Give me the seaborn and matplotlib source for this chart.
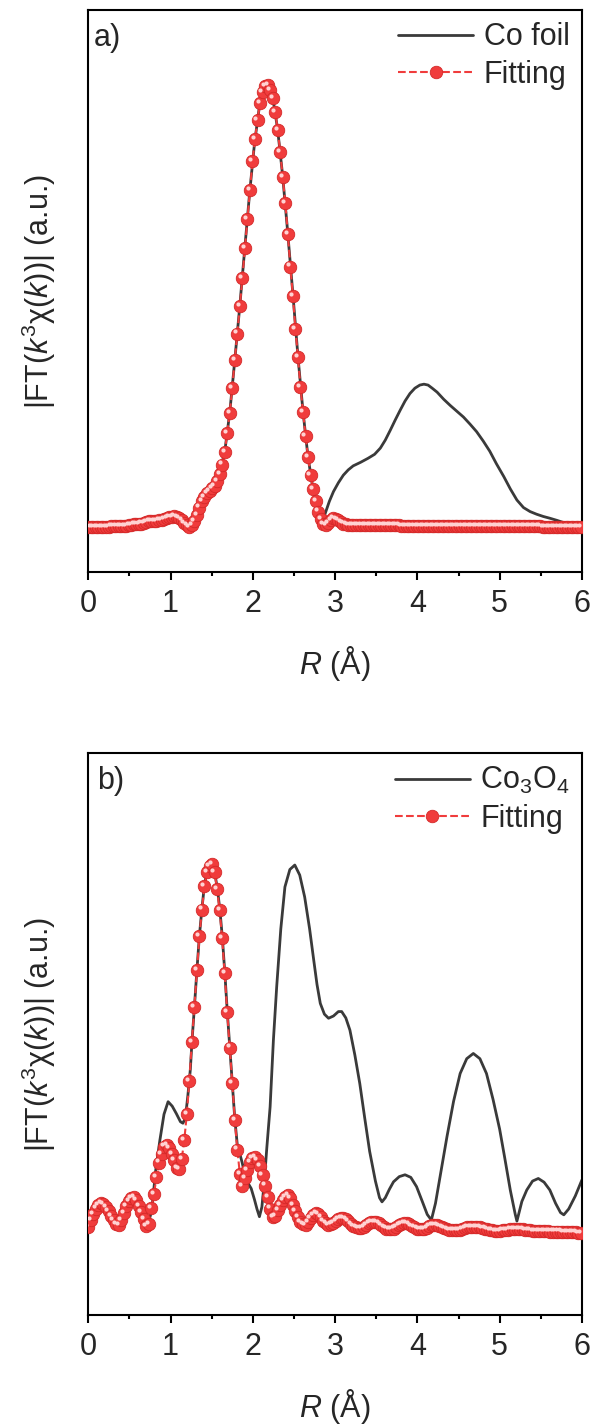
import numpy as np
import matplotlib
matplotlib.use('Agg')
import matplotlib.pyplot as plt
import seaborn as sns
from matplotlib import transforms
from matplotlib.ticker import MultipleLocator

# ==================================================================================
# Data (normalised |FT| magnitude)

# common R grid of the fits (Artemis-like 0.0307 A spacing)
r_fit = np.round(np.arange(196) * 0.0307, 4)

# a) Co foil
r_co_foil = [0.00, 0.30, 0.50, 0.70, 0.90, 1.04, 1.12, 1.23, 1.30, 1.37,
             1.45, 1.54, 1.60, 1.66, 1.72, 1.78, 1.84, 1.90, 1.96, 2.02,
             2.08, 2.14, 2.18, 2.24, 2.30, 2.36, 2.42, 2.49, 2.55, 2.61,
             2.67, 2.73, 2.79, 2.85, 2.88, 2.93, 2.98, 3.04, 3.10, 3.16,
             3.22, 3.31, 3.40, 3.48, 3.55, 3.61, 3.67, 3.73, 3.79, 3.85,
             3.91, 3.97, 4.03, 4.08, 4.13, 4.18, 4.24, 4.32, 4.40, 4.48,
             4.56, 4.64, 4.72, 4.80, 4.88, 4.96, 5.05, 5.13, 5.21, 5.29,
             5.37, 5.45, 5.53, 5.61, 5.70, 5.78, 5.86, 5.93, 6.00]
co_foil = [0.004, 0.006, 0.008, 0.015, 0.020, 0.028, 0.022, 0.005, 0.022, 0.058,
           0.081, 0.098, 0.126, 0.176, 0.263, 0.379, 0.499, 0.628, 0.755, 0.868,
           0.952, 0.995, 1.000, 0.974, 0.902, 0.800, 0.676, 0.522, 0.385, 0.264,
           0.163, 0.091, 0.041, 0.015, 0.035, 0.062, 0.084, 0.104, 0.121, 0.133,
           0.142, 0.150, 0.159, 0.168, 0.182, 0.200, 0.222, 0.245, 0.267, 0.288,
           0.305, 0.317, 0.324, 0.326, 0.324, 0.317, 0.308, 0.292, 0.278, 0.265,
           0.252, 0.236, 0.219, 0.198, 0.175, 0.147, 0.118, 0.090, 0.065, 0.048,
           0.039, 0.033, 0.028, 0.024, 0.019, 0.014, 0.009, 0.007, 0.006]
fit_co_foil = [0.004, 0.004, 0.004, 0.004, 0.005, 0.005, 0.005, 0.005, 0.005, 0.006,
               0.006, 0.006, 0.007, 0.007, 0.007, 0.007, 0.008, 0.009, 0.010, 0.010,
               0.011, 0.012, 0.014, 0.016, 0.017, 0.018, 0.018, 0.018, 0.019, 0.020,
               0.022, 0.024, 0.026, 0.027, 0.028, 0.027, 0.025, 0.020, 0.013, 0.008,
               0.005, 0.008, 0.017, 0.032, 0.048, 0.062, 0.072, 0.080, 0.086, 0.091,
               0.097, 0.108, 0.124, 0.145, 0.174, 0.215, 0.262, 0.318, 0.381, 0.440,
               0.503, 0.565, 0.632, 0.698, 0.763, 0.828, 0.878, 0.922, 0.960, 0.985,
               0.998, 1.000, 0.989, 0.970, 0.940, 0.898, 0.848, 0.792, 0.735, 0.665,
               0.591, 0.525, 0.451, 0.388, 0.320, 0.264, 0.210, 0.162, 0.122, 0.090,
               0.062, 0.039, 0.022, 0.011, 0.009, 0.014, 0.020, 0.024, 0.023, 0.020,
               0.016, 0.012, 0.010, 0.009, 0.008, 0.008, 0.008, 0.008, 0.008, 0.008,
               0.009, 0.009, 0.009, 0.009, 0.009, 0.008, 0.008, 0.008, 0.008, 0.008,
               0.008, 0.008, 0.008, 0.008, 0.007, 0.007, 0.007, 0.007, 0.007, 0.007,
               0.007, 0.007, 0.007, 0.007, 0.007, 0.007, 0.007, 0.007, 0.007, 0.007,
               0.006, 0.006, 0.006, 0.006, 0.006, 0.006, 0.006, 0.006, 0.006, 0.006,
               0.006, 0.006, 0.006, 0.006, 0.006, 0.006, 0.006, 0.006, 0.006, 0.006,
               0.006, 0.006, 0.006, 0.006, 0.006, 0.006, 0.006, 0.006, 0.006, 0.006,
               0.006, 0.006, 0.006, 0.006, 0.006, 0.006, 0.006, 0.006, 0.006, 0.006,
               0.005, 0.005, 0.005, 0.005, 0.005, 0.005, 0.005, 0.005, 0.005, 0.005,
               0.005, 0.005, 0.005, 0.005, 0.005, 0.005]

# b) Co3O4
r_co3o4 = [0.00, 0.06, 0.16, 0.26, 0.36, 0.45, 0.54, 0.64, 0.72, 0.77,
           0.82, 0.87, 0.92, 0.97, 1.02, 1.07, 1.12, 1.15, 1.18, 1.21,
           1.24, 1.26, 1.29, 1.32, 1.35, 1.38, 1.41, 1.44, 1.47, 1.50,
           1.53, 1.57, 1.60, 1.63, 1.66, 1.69, 1.72, 1.75, 1.78, 1.81,
           1.84, 1.87, 1.90, 1.94, 1.98, 2.02, 2.05, 2.08, 2.11, 2.14,
           2.17, 2.21, 2.25, 2.29, 2.34, 2.39, 2.45, 2.51, 2.57, 2.63,
           2.69, 2.74, 2.78, 2.82, 2.87, 2.92, 2.98, 3.04, 3.08, 3.13,
           3.18, 3.24, 3.30, 3.36, 3.42, 3.49, 3.54, 3.57, 3.61, 3.66,
           3.71, 3.78, 3.85, 3.92, 3.99, 4.06, 4.12, 4.17, 4.22, 4.29,
           4.36, 4.44, 4.52, 4.60, 4.68, 4.76, 4.84, 4.92, 5.00, 5.06,
           5.13, 5.19, 5.21, 5.27, 5.33, 5.40, 5.47, 5.54, 5.61, 5.68,
           5.74, 5.78, 5.84, 5.92, 6.00]
co3o4 = [0.017, 0.052, 0.080, 0.053, 0.022, 0.068, 0.096, 0.058, 0.018, 0.060,
         0.170, 0.250, 0.320, 0.354, 0.342, 0.322, 0.300, 0.296, 0.310, 0.370,
         0.440, 0.515, 0.610, 0.708, 0.800, 0.872, 0.935, 0.972, 0.990, 0.998,
         0.980, 0.927, 0.870, 0.795, 0.700, 0.595, 0.500, 0.405, 0.310, 0.240,
         0.215, 0.190, 0.160, 0.135, 0.120, 0.090, 0.065, 0.044, 0.070, 0.140,
         0.230, 0.340, 0.520, 0.664, 0.820, 0.933, 0.980, 0.992, 0.965, 0.906,
         0.820, 0.736, 0.670, 0.619, 0.590, 0.579, 0.585, 0.597, 0.597, 0.580,
         0.547, 0.480, 0.403, 0.310, 0.220, 0.140, 0.095, 0.084, 0.095, 0.118,
         0.138, 0.152, 0.157, 0.150, 0.125, 0.085, 0.050, 0.035, 0.080, 0.170,
         0.260, 0.355, 0.430, 0.470, 0.484, 0.470, 0.430, 0.360, 0.280, 0.205,
         0.115, 0.050, 0.032, 0.085, 0.116, 0.140, 0.147, 0.137, 0.116, 0.080,
         0.055, 0.049, 0.065, 0.100, 0.143]
fit_co3o4 = [0.017, 0.035, 0.052, 0.066, 0.076, 0.080, 0.078, 0.070, 0.058, 0.046,
             0.034, 0.025, 0.022, 0.035, 0.055, 0.072, 0.086, 0.094, 0.096, 0.088,
             0.072, 0.057, 0.038, 0.020, 0.025, 0.068, 0.105, 0.150, 0.190, 0.212,
             0.233, 0.236, 0.228, 0.214, 0.196, 0.176, 0.172, 0.200, 0.250, 0.320,
             0.410, 0.515, 0.610, 0.708, 0.800, 0.872, 0.935, 0.972, 0.990, 0.995,
             0.972, 0.927, 0.870, 0.795, 0.700, 0.595, 0.500, 0.405, 0.305, 0.225,
             0.160, 0.126, 0.148, 0.170, 0.192, 0.203, 0.206, 0.196, 0.181, 0.156,
             0.128, 0.098, 0.066, 0.042, 0.045, 0.062, 0.075, 0.088, 0.098, 0.102,
             0.094, 0.076, 0.058, 0.042, 0.030, 0.023, 0.022, 0.030, 0.040, 0.049,
             0.053, 0.050, 0.042, 0.033, 0.026, 0.022, 0.023, 0.028, 0.033, 0.037,
             0.040, 0.040, 0.038, 0.032, 0.025, 0.019, 0.015, 0.013, 0.013, 0.016,
             0.021, 0.026, 0.029, 0.030, 0.030, 0.027, 0.022, 0.016, 0.012, 0.010,
             0.010, 0.012, 0.017, 0.022, 0.025, 0.026, 0.026, 0.024, 0.020, 0.016,
             0.012, 0.010, 0.010, 0.011, 0.014, 0.018, 0.021, 0.022, 0.022, 0.020,
             0.017, 0.014, 0.011, 0.009, 0.008, 0.008, 0.008, 0.009, 0.011, 0.013,
             0.015, 0.016, 0.017, 0.017, 0.017, 0.016, 0.014, 0.012, 0.010, 0.008,
             0.007, 0.006, 0.006, 0.006, 0.007, 0.008, 0.009, 0.010, 0.010, 0.010,
             0.010, 0.010, 0.010, 0.009, 0.008, 0.007, 0.006, 0.005, 0.005, 0.005,
             0.005, 0.005, 0.005, 0.004, 0.004, 0.004, 0.004, 0.004, 0.003, 0.003,
             0.003, 0.002, 0.002, 0.002, 0.001, 0.001]

# ==================================================================================
# Style

BLACK = '#3a3a3a'
RED = '#f03c3c'

sns.set_style('ticks')
plt.rcParams['font.family'] = ['Liberation Sans', 'DejaVu Sans']
plt.rcParams['mathtext.fontset'] = 'custom'
plt.rcParams['mathtext.rm'] = 'Liberation Sans'
plt.rcParams['mathtext.it'] = 'Liberation Sans:italic'

fig = plt.figure(figsize=(5.95, 14.27), dpi=100)
ax_a = fig.add_axes([0.1484, 0.5992, 0.8296, 0.3938])
ax_b = fig.add_axes([0.1484, 0.0785, 0.8296, 0.3938])


def draw_panel(ax, r_data, y_data, y_fit, label, tag, ylim, tag_x):
    sns.lineplot(x=r_data, y=y_data, ax=ax, color=BLACK, lw=2.0,
                 sort=False, estimator=None, zorder=2)
    sns.lineplot(x=r_fit, y=y_fit, ax=ax, color=RED, lw=1.5, linestyle='--',
                 marker='o', markersize=9, markerfacecolor=RED,
                 markeredgecolor='#d42828', markeredgewidth=0.6,
                 sort=False, estimator=None, zorder=3)
    # shiny spot on the balls
    shine = transforms.offset_copy(ax.transData, fig=fig, x=-1.5, y=1.5, units='points')
    ax.plot(r_fit, y_fit, ls='none', marker='o', ms=3.0, mfc='#ffd2d2',
            mec='none', transform=shine, zorder=4)
    h_data, h_fit = ax.lines[0], ax.lines[1]
    ax.legend([h_data, h_fit], [label, 'Fitting'],
              loc='upper right', frameon=False, fontsize=22, numpoints=1,
              handlelength=2.45, handletextpad=0.35, labelspacing=0.25,
              borderaxespad=0.2, borderpad=0.2)

    ax.text(tag_x, 0.95, tag, transform=ax.transAxes, fontsize=22, va='center', ha='left')

    ax.set_xlim(0, 6)
    ax.set_ylim(*ylim)
    ax.set_yticks([])
    ax.xaxis.set_major_locator(MultipleLocator(1))
    ax.xaxis.set_minor_locator(MultipleLocator(0.5))
    ax.tick_params(axis='x', which='major', direction='out', length=6, width=1.5,
                   labelsize=22, pad=6, top=False, color='black')
    ax.tick_params(axis='x', which='minor', direction='out', length=3, width=1.5,
                   top=False, color='black')
    for sp in ax.spines.values():
        sp.set_linewidth(1.5)
        sp.set_color('black')
    ax.set_xlabel('$\\mathit{R}$ (Å)', fontsize=22, labelpad=18)
    ax.set_ylabel('|FT($\\mathit{k}^{3}$χ($\\mathit{k}$))| (a.u.)', fontsize=22, labelpad=22)


draw_panel(ax_a, r_co_foil, co_foil, fit_co_foil, 'Co foil', 'a)', (-0.097, 1.169), 0.012)
draw_panel(ax_b, r_co3o4, co3o4, fit_co3o4, 'Co$_3$O$_4$', 'b)', (-0.221, 1.294), 0.018)

fig.savefig('out.png', dpi=100, facecolor='white')
